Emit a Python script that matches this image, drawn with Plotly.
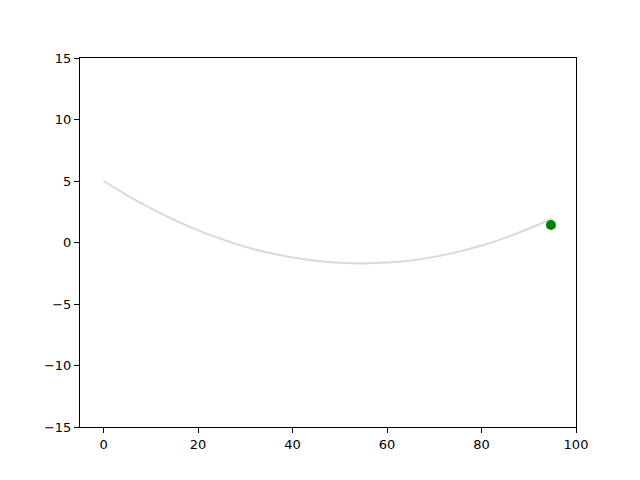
import plotly.graph_objects as go

path_x = [0, 5, 10, 15, 20, 25, 30, 35, 40, 45, 50, 55, 60, 65, 70, 75, 80, 85, 90, 95]
path_y = [5.0, 3.84, 2.78, 1.83, 0.99, 0.27, -0.34, -0.84, -1.22, -1.49, -1.65, -1.70,
          -1.63, -1.46, -1.17, -0.76, -0.25, 0.38, 1.12, 1.95]
point_x = [94.7]
point_y = [1.42]

x_ticks = [0, 20, 40, 60, 80, 100]
y_ticks = [-15, -10, -5, 0, 5, 10, 15]

fig = go.Figure()
fig.add_trace(go.Scatter(x=path_x, y=path_y, mode="lines", line=dict(color="#d9d9d9", width=2, shape="spline"),
                         hoverinfo="skip", showlegend=False))
fig.add_trace(go.Scatter(x=point_x, y=point_y, mode="markers", marker=dict(color="green", size=10),
                         showlegend=False))

axis_common = dict(showgrid=False, zeroline=False, showline=True, linecolor="black", linewidth=1,
                   mirror=True, ticks="outside", ticklen=5, tickcolor="black", tickwidth=1,
                   tickfont=dict(family="DejaVu Sans", size=13, color="black"))
fig.update_xaxes(range=[-5, 100], tickvals=x_ticks, ticktext=[str(v) for v in x_ticks], **axis_common)
fig.update_yaxes(range=[-15, 15], tickvals=y_ticks, ticktext=[str(v).replace("-", "\u2212") for v in y_ticks],
                 **axis_common)
fig.update_layout(width=640, height=480, margin=dict(l=72, r=72, t=50, b=61),
                  plot_bgcolor="white", paper_bgcolor="white")
fig.write_html("out.html")
